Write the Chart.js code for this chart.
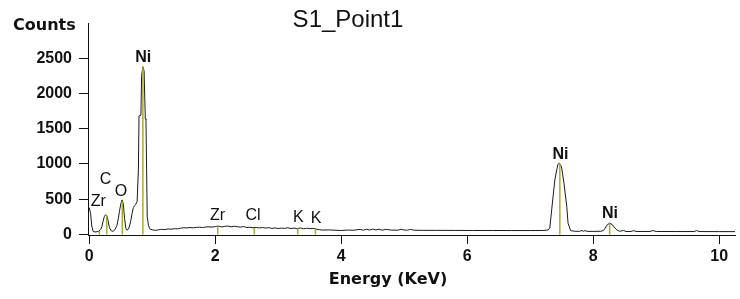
<!DOCTYPE html>
<html>
<head>
<meta charset="utf-8">
<script src="https://cdn.jsdelivr.net/npm/chart.js@4.4.0/dist/chart.umd.min.js"></script>
<style>
  html, body { margin: 0; padding: 0; background: #fff; }
  #wrap { width: 740px; height: 299px; position: relative; }
</style>
</head>
<body>
<div id="wrap"><canvas id="c" width="740" height="299"></canvas></div>
<script>
// ---- data ----
const energy = [
  0.00, 0.02, 0.04, 0.06, 0.09, 0.12, 0.15, 0.18, 0.20, 0.22, 0.24, 0.26, 0.28, 0.30, 0.32, 0.35,
  0.38, 0.41, 0.44, 0.46, 0.48, 0.50, 0.52, 0.54, 0.56, 0.58, 0.60, 0.62, 0.64, 0.66, 0.68, 0.70,
  0.72, 0.74, 0.76, 0.78, 0.79, 0.82, 0.83, 0.85, 0.87, 0.89, 0.90, 0.92, 0.94, 0.96,
  1.00, 1.05, 1.10, 1.15, 1.20, 1.25, 1.30, 1.35, 1.40, 1.45, 1.50, 1.55, 1.60, 1.65, 1.70, 1.75,
  1.80, 1.85, 1.90, 1.95, 2.00, 2.05, 2.10, 2.15, 2.20, 2.25, 2.30, 2.35, 2.40, 2.45, 2.50, 2.55,
  2.60, 2.65, 2.70, 2.75, 2.80, 2.85, 2.90, 2.95, 3.00, 3.05, 3.10, 3.15, 3.20, 3.25, 3.30, 3.35,
  3.40, 3.45, 3.50, 3.55, 3.60, 3.65, 3.70, 3.80, 3.90, 4.00, 4.10, 4.20, 4.30, 4.35, 4.40, 4.45,
  4.50, 4.55, 4.60, 4.65, 4.70, 4.80, 4.90, 4.95, 5.00, 5.05, 5.10, 5.15, 5.30, 5.50, 5.80, 6.10,
  6.40, 6.70, 7.00, 7.20, 7.28, 7.31, 7.34, 7.365, 7.39, 7.42, 7.44, 7.46, 7.48, 7.50, 7.535, 7.58,
  7.60, 7.64, 7.70, 7.78, 7.82, 7.845, 7.87, 7.90, 8.00, 8.12, 8.16, 8.19, 8.22, 8.26, 8.30, 8.34,
  8.38, 8.42, 8.48, 8.52, 8.60, 8.64, 8.68, 8.90, 8.95, 9.00, 9.30, 9.60, 9.64, 9.68, 10.00, 10.25
];
const counts = [
  380, 300, 120, 45, 35, 38, 45, 70, 110, 190, 255, 280, 265, 190, 95, 50,
  45, 70, 130, 220, 330, 430, 490, 440, 230, 90, 60, 75, 120, 200, 300, 380,
  410, 430, 470, 920, 1680, 1690, 2240, 2380, 2320, 1640, 1630, 250, 130, 80,
  65, 58, 66, 72, 68, 78, 74, 82, 79, 88, 95, 92, 98, 94, 100, 103,
  98, 105, 108, 104, 112, 118, 106, 114, 120, 108, 116, 110, 104, 112, 98, 102,
  94, 100, 92, 98, 90, 96, 86, 92, 84, 90, 86, 94, 84, 90, 82, 92,
  80, 88, 82, 86, 76, 68, 62, 64, 60, 56, 62, 60, 72, 60, 74, 62,
  76, 64, 74, 60, 72, 62, 60, 74, 62, 60, 72, 60, 58, 58, 57, 56,
  56, 55, 55, 56, 62, 92, 347, 560, 773, 915, 995, 1010, 990, 940, 726, 394,
  160, 55, 45, 44, 56, 44, 56, 44, 43, 45, 55, 90, 135, 160, 140, 95,
  60, 45, 56, 42, 42, 54, 42, 42, 55, 42, 41, 41, 55, 41, 40, 40
];
const markerEnergy = [0.16, 0.277, 0.525, 0.851, 2.04, 2.62, 3.31, 3.59, 7.47, 8.26];
const markerHeight = [50, 277, 470, 2390, 115, 90, 88, 70, 1010, 155];
const peakLabels  = ['Zr', 'C', 'O', 'Ni', 'Zr', 'Cl', 'K', 'K', 'Ni', 'Ni'];
const labelEnergy = [0.143, 0.257, 0.503, 0.857, 2.035, 2.60, 3.32, 3.60, 7.48, 8.265];
const labelCounts = [490, 805, 631, 2538, 286, 291, 262, 248, 1160, 315];
const xTicks = [0, 2, 4, 6, 8, 10];
const yTicks = [0, 500, 1000, 1500, 2000, 2500];
const chartTitle = 'S1_Point1';
const xTitle = 'Energy (KeV)';
const yTitle = 'Counts';

// ---- build ----
const spectrum = energy.map((e, i) => ({ x: e, y: counts[i] }));
const markers = [];
markerEnergy.forEach((e, i) => {
  markers.push({ x: e, y: 0 }, { x: e, y: markerHeight[i] }, { x: e, y: null });
});

const textPlugin = {
  id: 'texts',
  afterDraw(chart) {
    const { ctx, scales } = chart;
    const xs = scales.x, ys = scales.y;
    ctx.save();
    ctx.fillStyle = '#111';
    ctx.textBaseline = 'alphabetic';
    // peak labels
    peakLabels.forEach((t, i) => {
      const bold = t === 'Ni';
      ctx.font = (bold ? 'bold ' : '') + '16px "Liberation Sans", Arial, sans-serif';
      ctx.textAlign = 'center';
      const px = xs.getPixelForValue(labelEnergy[i]);
      const py = ys.getPixelForValue(labelCounts[i]);
      ctx.fillText(t, px, py + 6);
    });
    // title
    ctx.font = '24px "Liberation Sans", Arial, sans-serif';
    ctx.textAlign = 'center';
    ctx.fillText(chartTitle, 348, 27);
    // axis titles
    ctx.font = 'bold 16px "DejaVu Sans", sans-serif';
    ctx.textAlign = 'left';
    ctx.fillText(yTitle, 13, 30);
    ctx.textAlign = 'center';
    ctx.fillText(xTitle, 388, 284);
    ctx.restore();
  }
};

new Chart(document.getElementById('c'), {
  type: 'scatter',
  data: {
    datasets: [
      {
        data: markers,
        showLine: true,
        spanGaps: false,
        borderColor: '#aaa83a',
        borderWidth: 1.5,
        pointRadius: 0,
        tension: 0
      },
      {
        data: spectrum,
        showLine: true,
        borderColor: '#1a1a1a',
        borderWidth: 1,
        pointRadius: 0,
        tension: 0
      }
    ]
  },
  options: {
    responsive: false,
    animation: false,
    devicePixelRatio: 1,
    layout: { padding: { top: 23, right: 5, left: 0, bottom: 0 } },
    plugins: { legend: { display: false }, tooltip: { enabled: false }, title: { display: false } },
    scales: {
      x: {
        type: 'linear',
        min: -0.02,
        max: 10.25,
        afterFit: s => { s.height = 64; },
        afterBuildTicks: s => { s.ticks = xTicks.map(v => ({ value: v })); },
        grid: { drawOnChartArea: false, drawTicks: true, tickLength: 9, color: '#111', lineWidth: 1 },
        border: { display: true, color: '#111', width: 1 },
        ticks: {
          padding: 3,
          color: '#111',
          font: { family: '"Liberation Sans", Arial, sans-serif', size: 16, weight: 'bold' },
          callback: v => String(v)
        }
      },
      y: {
        type: 'linear',
        min: -8,
        max: 3000,
        afterFit: s => { s.width = 88; },
        afterBuildTicks: s => { s.ticks = yTicks.map(v => ({ value: v })); },
        grid: { drawOnChartArea: false, drawTicks: true, tickLength: 9, color: '#111', lineWidth: 1 },
        border: { display: true, color: '#111', width: 1 },
        ticks: {
          padding: 7,
          color: '#111',
          font: { family: '"Liberation Sans", Arial, sans-serif', size: 16, weight: 'bold' },
          callback: v => String(v)
        }
      }
    }
  },
  plugins: [textPlugin]
});
</script>
</body>
</html>
